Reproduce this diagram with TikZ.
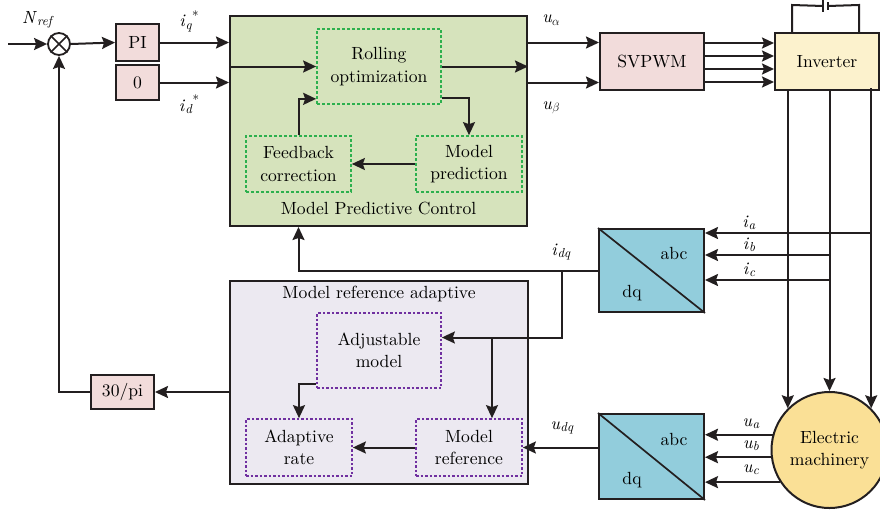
\documentclass[tikz,border=0pt]{standalone}
\usepackage{fontspec}
\setmainfont{lmroman10-regular.otf}[
  ItalicFont=lmroman10-italic.otf,
  BoldFont=lmroman10-bold.otf]
\usetikzlibrary{arrows.meta,calc}

\definecolor{mpcfill}{HTML}{D6E3BC}
\definecolor{grn}{HTML}{2DB04E}
\definecolor{pinkfill}{HTML}{F2DCDB}
\definecolor{invfill}{HTML}{FCF2CD}
\definecolor{dqfill}{HTML}{92CDDC}
\definecolor{emfill}{HTML}{FAE096}
\definecolor{mrasfill}{HTML}{ECE9F1}
\definecolor{prp}{HTML}{7030A0}
\definecolor{ink}{HTML}{231F20}

% italic symbol with an italic (or Greek) subscript
\newcommand{\symb}[2]{\textit{#1}\raisebox{-0.3ex}{\fontsize{13}{13}\selectfont\textit{#2}}}
\newcommand{\symg}[2]{\textit{#1}\raisebox{-0.3ex}{\fontsize{13}{13}\selectfont$#2$}}

\tikzset{
  wire/.style={draw=ink, line width=2pt},
  arr/.style={wire, -{Stealth[length=13pt,width=12pt,inset=2pt]}},
  blk/.style={draw=ink, line width=2pt, inner sep=0pt, align=center},
  pinkbox/.style={blk, fill=pinkfill},
  gbox/.style={draw=grn, line width=1.7pt, dash pattern=on 3pt off 2pt, inner sep=0pt, align=center},
  pbox/.style={draw=prp, line width=1.7pt, dash pattern=on 2.5pt off 2pt, inner sep=0pt, align=center},
  dqbox/.style={blk, fill=dqfill, minimum width=105pt},
  lbl/.style={inner sep=0pt},
}

\begin{document}
\begin{tikzpicture}[x=1pt, y=-1pt, font=\fontsize{17.6}{22.5}\selectfont]
\fill[white] (0,0) rectangle (880,514);
\useasboundingbox (0,0) rectangle (880,514);

% outer blocks
\node[blk, fill=mpcfill, minimum width=297pt, minimum height=210pt] (mpc) at (378.5,121) {};
\node[blk, fill=mrasfill, minimum width=298pt, minimum height=203pt] (mras) at (379,382.5) {};
\node[lbl] (mpct) at (378.5,208) {Model Predictive Control};
\node[lbl] (mrast) at (379,294) {Model reference adaptive};

% inner MPC blocks
\node[gbox, minimum width=124pt, minimum height=75pt] (roll) at (379,66.5) {Rolling\\optimization};
\node[gbox, minimum width=105pt, minimum height=56pt] (fb) at (298.5,164) {Feedback\\correction};
\node[gbox, minimum width=106pt, minimum height=56pt] (mp) at (469,164) {Model\\prediction};

% inner MRAS blocks
\node[pbox, minimum width=124pt, minimum height=75pt] (adj) at (379,350.5) {Adjustable\\model};
\node[pbox, minimum width=106pt, minimum height=57pt] (ar) at (299,447.5) {Adaptive\\rate};
\node[pbox, minimum width=106pt, minimum height=57pt] (mr) at (469,447.5) {Model\\reference};

% other blocks
\node[draw=ink, line width=1.8pt, circle, minimum size=22pt, inner sep=0pt] (sum) at (59,44) {};
\draw[ink, line width=1.7pt] (sum.north west) -- (sum.south east) (sum.north east) -- (sum.south west);
\node[pinkbox, minimum width=43pt, minimum height=37pt] (pi) at (137.5,42.5) {PI};
\node[pinkbox, minimum width=43pt, minimum height=35pt] (zero) at (137.5,82.5) {0};
\node[pinkbox, minimum width=104pt, minimum height=57pt] (svpwm) at (652,61.5) {SVPWM};
\node[blk, fill=invfill, minimum width=104pt, minimum height=57pt] (inv) at (827,61.5) {Inverter};
\node[pinkbox, minimum width=63pt, minimum height=34pt] (k30) at (122.5,392) {30/pi};
\node[blk, fill=emfill, circle, minimum size=116pt] (em) at (829.5,450) {Electric\\machinery};

% abc/dq transforms
\node[dqbox, minimum height=83pt] (dq1) at (651.5,270.5) {};
\draw[ink, line width=1.7pt] (dq1.north west) -- (dq1.south east);
\node[lbl] (dq1a) at (674,253) {abc};
\node[lbl] (dq1b) at (632,293) {dq};
\node[dqbox, minimum height=85pt] (dq2) at (651.5,456.5) {};
\draw[ink, line width=1.7pt] (dq2.north west) -- (dq2.south east);
\node[lbl] (dq2a) at (674,439) {abc};
\node[lbl] (dq2b) at (632,480) {dq};

% reference path
\coordinate (nin) at (8,44);
\draw[arr] (nin) -- (sum.west);
\node[lbl] (nref) at (38,20) {\symb{N}{ref}};
\draw[arr] (sum.east) -- (pi.west);
\draw[arr] (pi.east) -- (pi.east -| mpc.west);
\draw[arr] (zero.east) -- (zero.east -| mpc.west);
\node[lbl] (iq) at (189,21) {\symb{i}{q}\raisebox{0.9ex}{\fontsize{13}{13}\selectfont *}};
\node[lbl] (id) at (189,104) {\symb{i}{d}\raisebox{0.9ex}{\fontsize{13}{13}\selectfont *}};

% inside MPC
\draw[arr] (mpc.west |- roll.west) -- (roll.west);
\draw[arr] (roll.east) -- (roll.east -| mpc.east);
\draw[arr] ($(roll.south east)+(0,-7)$) -| (mp.north);
\draw[arr] (mp.west) -- (fb.east);
\draw[arr] (fb.north) |- ($(roll.south west)+(0,-6)$);

% MPC to SVPWM to inverter
\draw[arr] (mpc.east |- pi.east) -- (svpwm.west |- pi.east);
\draw[arr] (mpc.east |- zero.east) -- (svpwm.west |- zero.east);
\node[lbl] (ua) at (551,20) {\symg{u}{\alpha}};
\node[lbl] (ub) at (551,108) {\symg{u}{\beta}};
\foreach \dy in {-18.5,-5.5,7.5,20.5}
  \draw[wire, -{Stealth[length=12pt,width=11pt,inset=2pt]}] ($(svpwm.east)+(0,\dy)$) -- ($(inv.west)+(0,\dy)$);

% DC source on the inverter
\draw[wire] ($(inv.north west)+(18,0)$) -- ++(0,-27) -- (823,6);
\draw[wire] ($(inv.north east)+(-21,0)$) -- ++(0,-27) -- (828,6);
\draw[ink, line width=1.3pt] (823,0) -- (823,12);
\draw[ink, line width=2.4pt] (828,2) -- (828,10);

% phase lines to the machine
\draw[arr] (inv.south -| em.north west) -- (em.north west);
\draw[arr] (inv.south -| em.north) -- (em.north);
\draw[arr] ($(inv.south -| em.north east)+(0,-3)$) -- (em.north east);

% current measurement
\draw[arr] (em.north east |- 0,233) -- (dq1.east |- 0,233);
\draw[arr] (em.north |- 0,255) -- (dq1.east |- 0,255);
\draw[arr] (em.north |- 0,280) -- (dq1.east |- 0,280);
\node[lbl] (ia) at (749,223) {\symb{i}{a}};
\node[lbl] (ib) at (749,245) {\symb{i}{b}};
\node[lbl] (ic) at (749,270) {\symb{i}{c}};

% voltage measurement
\draw[arr] (em.165) -- (dq2.east |- em.165);
\draw[arr] (em.187) -- (dq2.east |- em.187);
\draw[arr] (em.213.5) -- (dq2.east |- em.213.5);
\node[lbl] (uaa) at (751,424) {\symb{u}{a}};
\node[lbl] (ubb) at (751,446) {\symb{u}{b}};
\node[lbl] (ucc) at (751,470) {\symb{u}{c}};

% i_dq feedback
\coordinate (br1) at (562,270.5);
\draw[arr] (dq1.west) -| (mpc.south -| fb.north);
\node[lbl] (idq) at (561,252) {\symb{i}{dq}};
\coordinate (br2) at (492,337.5);
\draw[arr] (br1) |- ($(adj.east)+(0,-13)$);
\draw[arr] (br2) -- (br2 |- mr.north);

% inside MRAS
\draw[arr] ($(adj.south west)+(0,-5)$) -| (ar.north);
\draw[arr] (mr.west) -- (ar.east);

% u_dq
\draw[arr] (dq2.west |- mr.east) -- (mr.east);
\node[lbl] (udq) at (562,428) {\symb{u}{dq}};

% speed feedback
\draw[arr] (mras.west |- k30.east) -- (k30.east);
\draw[arr] (k30.west) -| (sum.south);
\end{tikzpicture}
\end{document}
